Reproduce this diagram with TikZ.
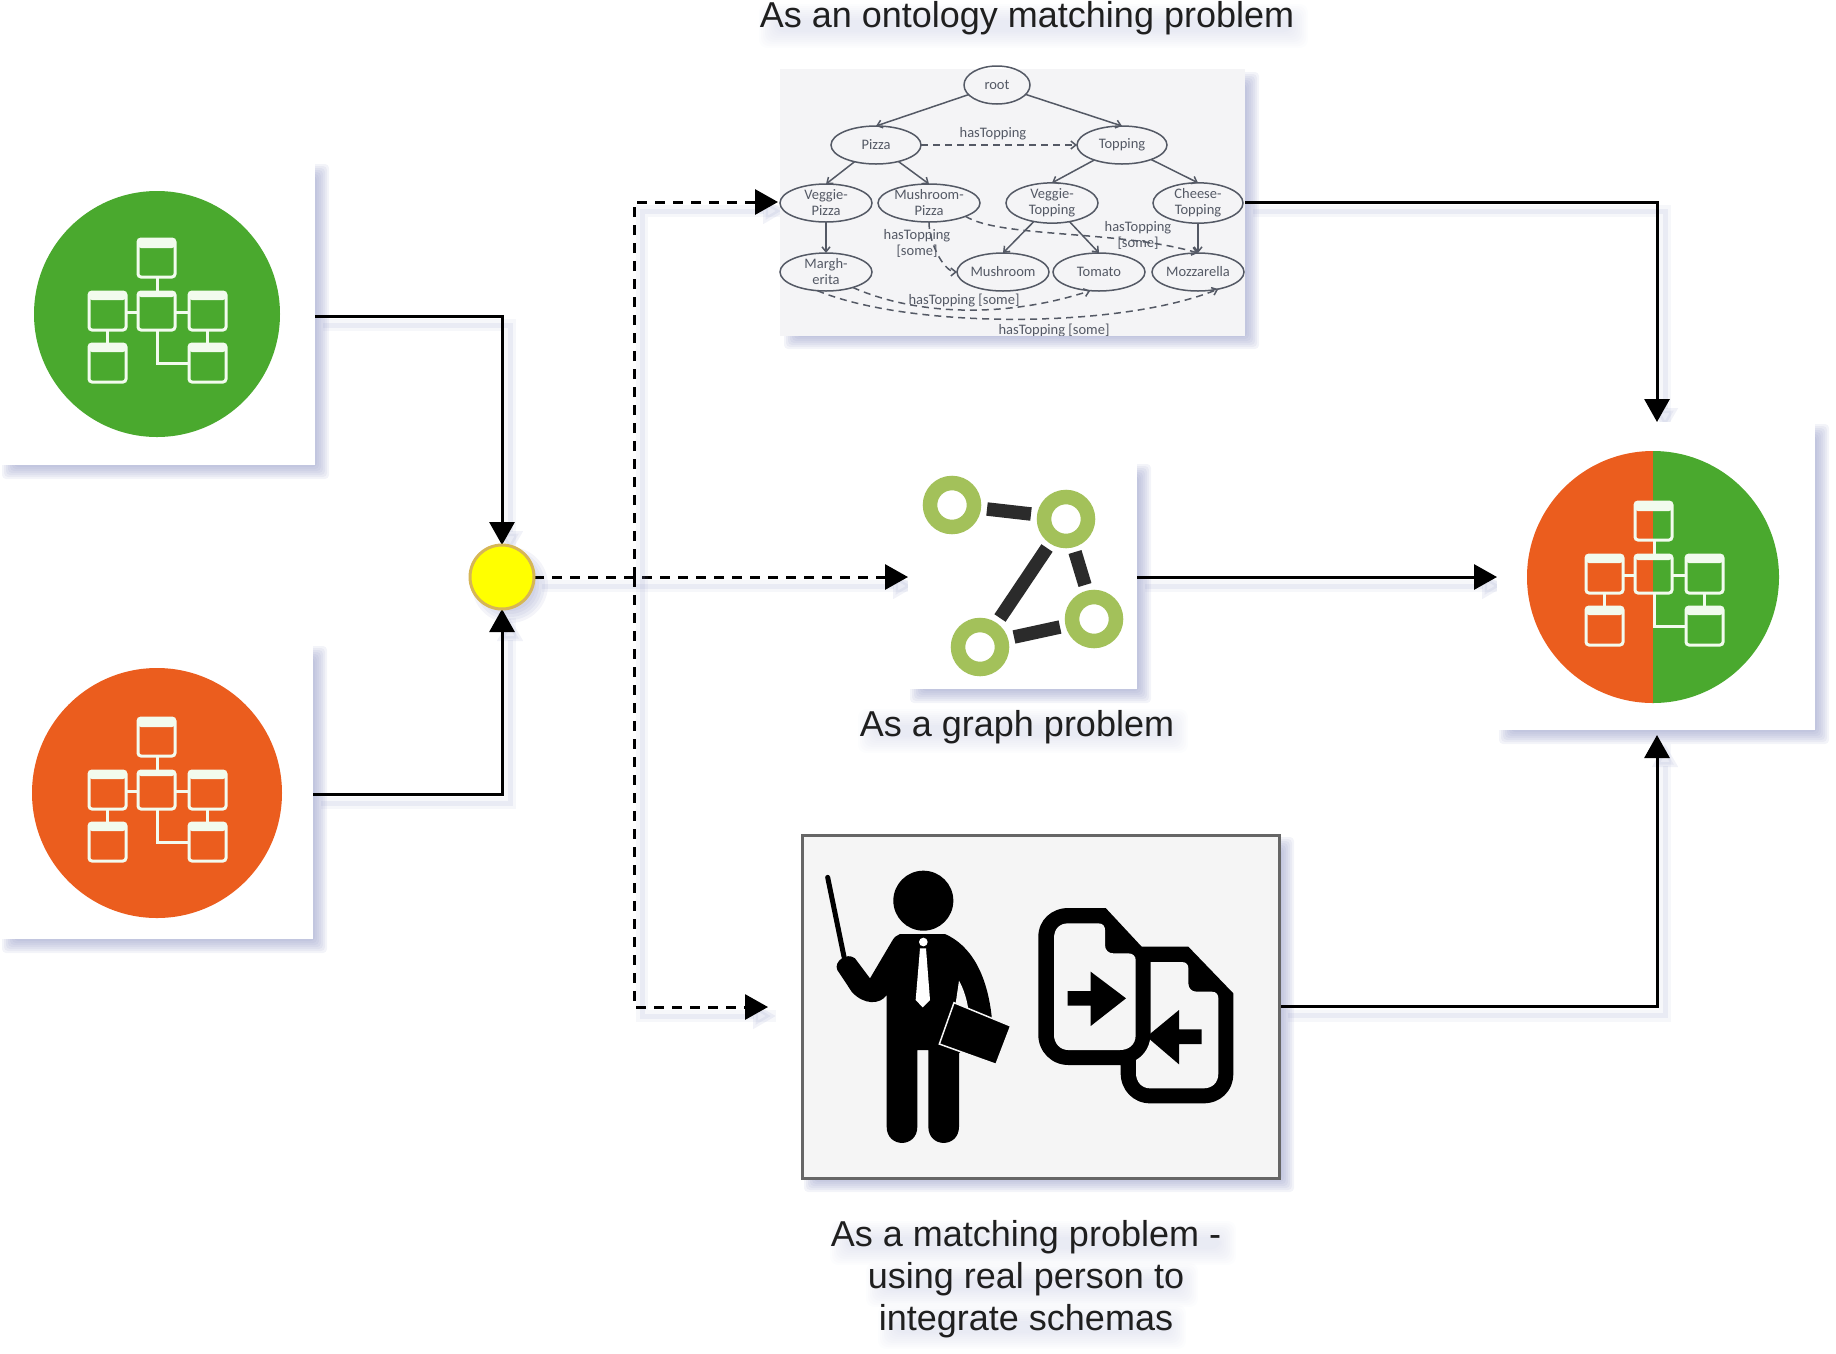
\documentclass[tikz,border=0pt]{standalone}
\usepackage{fontspec}
\setmainfont{Liberation Sans}
\newfontfamily\onto{Carlito}
\usetikzlibrary{arrows.meta,shapes.geometric,calc}
\pgfdeclarelayer{bg}
\pgfsetlayers{bg,main}
\definecolor{shcol}{HTML}{8F96C4}
\definecolor{grn}{HTML}{4AA92E}
\definecolor{org}{HTML}{EB5D1E}
\definecolor{ontoc}{HTML}{545965}
\definecolor{ontobg}{HTML}{F4F4F6}
\definecolor{ringc}{HTML}{A3C15A}
\definecolor{barc}{HTML}{2B2B2B}
\definecolor{mergefill}{HTML}{FFFF00}
\definecolor{mergeline}{HTML}{D6B656}
\definecolor{iconc}{HTML}{F2FBEE}
\tikzset{
  imgbox/.style={rectangle,inner sep=0pt,outer sep=0pt,fill=white},
  captext/.style={font=\fontsize{36}{42}\selectfont,text=black!88,align=center,inner sep=0pt},
  arrowline/.style={line width=3pt,black,-{Triangle[length=23pt,width=25pt]},
    preaction={draw=shcol,opacity=.08,line width=12pt,solid,arrows=-,transform canvas={shift={(8pt,-9pt)}}},
    preaction={draw=shcol,opacity=.12,line width=5pt,solid,transform canvas={shift={(8pt,-9pt)}}}},
  dashline/.style={arrowline,dash pattern=on 10pt off 8pt},
  onode/.style={ellipse,draw=ontoc,line width=1.5pt,inner sep=0pt,outer sep=0pt,minimum height=38pt,
     font=\onto\fontsize{14.5}{16}\selectfont,text=ontoc,align=center},
  olabel/.style={font=\onto\fontsize{14.5}{16}\selectfont,text=ontoc,align=center,inner sep=0pt},
  oedge/.style={draw=ontoc,line width=1.5pt,-{Straight Barb[length=5pt,width=8pt]}},
  odash/.style={oedge,dash pattern=on 7pt off 5pt},
  iconline/.style={draw=iconc,line width=3pt,rounded corners=3pt},
  bar/.style={draw=barc,line width=13.5pt},
  ring/.style={circle,draw=ringc,line width=14.5pt,fill=white,minimum size=44pt,inner sep=0pt,outer sep=0pt},
}
\newcommand\softshadow[4]{% x0 y0 x1 y1
  \foreach \k in {-6,-4,...,6}{
    \fill[shcol,opacity=.105,rounded corners=4pt] ({#1+8-\k},{#2+8-\k}) rectangle ({#3+8+\k},{#4+8+\k});
  }}
\newcommand\softband[4]{%
  \foreach \k in {-8,-6,...,8}{
    \fill[shcol,opacity=.025,rounded corners=8pt] ({#1+6-\k},{#2+6-\k}) rectangle ({#3+6+\k},{#4+6+\k});
  }}
\newcommand\ibox[3]{% x y header
  \fill[iconc,rounded corners=3pt] (#1,#2) rectangle ({#1+37},{#2+#3});
  \draw[iconline] (#1,#2) rectangle ({#1+37},{#2+38});
}
\newcommand\schemaicon[2]{%
  \begin{scope}[shift={(#1,#2)}]
    \draw[iconline] (1,-37) -- (1,-23);
    \draw[iconline] (-30,-3) -- (-17,-3);
    \draw[iconline] (20,-3) -- (33,-3);
    \draw[iconline] (-49,16) -- (-49,29);
    \draw[iconline] (51,16) -- (51,29);
    \draw[iconline,rounded corners=0pt] (1,16) -- (1,48) -- (33,48);
    \ibox{-18}{-76}{9}
    \ibox{-18}{-23}{5}
    \ibox{-67}{-23}{8}
    \ibox{33}{-23}{8}
    \ibox{-67}{29}{8}
    \ibox{33}{29}{8}
  \end{scope}}
\begin{document}
\begin{tikzpicture}[x=1pt,y=-1pt]
\useasboundingbox (0,0) rectangle (1836,1353);
% shadows of the pictures
\begin{pgfonlayer}{bg}
\softshadow{0}{162}{315}{465}
\softshadow{0}{644}{313}{939}
\softshadow{782}{70}{1245}{335}
\softshadow{908}{462}{1137}{689}
\softshadow{1497}{422}{1815}{730}
\softshadow{802}{835}{1280}{1178}
\softband{761}{6}{1294}{34}
\softband{860}{711}{1174}{739}
\softband{832}{1223}{1222}{1251}
\softband{868}{1265}{1184}{1293}
\softband{880}{1307}{1172}{1335}
\foreach \k in {26,29,...,40}{\fill[shcol,opacity=.1] (510,585) circle (\k);}
\end{pgfonlayer}
% left boxes
\node[imgbox,minimum width=315pt,minimum height=303pt] (green) at (157.5,313.5) {};
\fill[grn] (157,314) circle (123);
\schemaicon{156}{315}
\node[imgbox,minimum width=313pt,minimum height=295pt] (orange) at (156.5,791.5) {};
\fill[org] (157,793) circle (125);
\schemaicon{156}{794}
% output box
\node[imgbox,minimum width=318pt,minimum height=308pt] (out) at (1656,576) {};
\fill[org] (1653,703) arc[start angle=90,end angle=270,radius=126] -- cycle;
\fill[grn] (1653,703) arc[start angle=90,end angle=-90,radius=126] -- cycle;
\schemaicon{1653}{578}
% merge point
\node[circle,fill=mergefill,draw=mergeline,line width=3pt,minimum size=64pt,inner sep=0pt,outer sep=0pt] (merge) at (502,577) {};
% ontology picture
\node[imgbox,fill=ontobg,minimum width=465pt,minimum height=267pt] (ontology) at (1012.5,202) {};
\node[onode,minimum width=66pt] (root) at (997,85) {root};
\node[onode,minimum width=90pt] (pizza) at (876,145) {Pizza};
\node[onode,minimum width=90pt] (topping) at (1122,145) {Topping};
\node[onode,minimum width=92pt] (vpizza) at (826,203) {Veggie-\\Pizza};
\node[onode,minimum width=102pt] (mpizza) at (929,203) {Mushroom-\\Pizza};
\node[onode,minimum width=92pt] (vtop) at (1052,203) {Veggie-\\Topping};
\node[onode,minimum width=90pt] (ctop) at (1198,203) {Cheese-\\Topping};
\node[onode,minimum width=92pt] (marg) at (826,272) {Margh-\\erita};
\node[onode,minimum width=92pt] (mush) at (1003,272) {Mushroom};
\node[onode,minimum width=92pt] (tom) at (1099,272) {Tomato};
\node[onode,minimum width=92pt] (moz) at (1198,272) {Mozzarella};
\draw[oedge] (root) -- (pizza.north);
\draw[oedge] (root) -- (topping.north);
\draw[oedge] (pizza) -- (vpizza.north);
\draw[oedge] (pizza) -- (mpizza.north);
\draw[oedge] (topping) -- (vtop.north);
\draw[oedge] (topping) -- (ctop.north);
\draw[oedge] (vpizza) -- (marg);
\draw[oedge] (vtop) -- (mush.north);
\draw[oedge] (vtop) -- (tom.north);
\draw[oedge] (ctop) -- (moz);
\draw[odash] (pizza) -- (topping);
\draw[odash] (mpizza.south) .. controls (929,245) and (945,272) .. (mush.west);
\draw[odash] (mpizza.-20) .. controls (1000,238) and (1120,230) .. (moz.north);
\draw[odash] (marg.-30) .. controls (920,317) and (1010,317) .. (tom.-115);
\draw[odash] (marg.-115) .. controls (910,329) and (1120,329) .. (moz.-40);
\node[olabel] (l1) at (993,134) {hasTopping};
\node[olabel] (l2) at (917,243) {hasTopping\\{[some]}};
\node[olabel] (l3) at (1138,235.5) {hasTopping\\{[some]}};
\node[olabel] (l4) at (964,300) {hasTopping [some]};
\begin{scope}
\clip (780,300) rectangle (1245,335);
\node[olabel] (l5) at (1054,330.5) {hasTopping [some]};
\end{scope}
% graph picture
\node[imgbox,minimum width=229pt,minimum height=227pt] (graph) at (1022.5,575.5) {};
\draw[bar] (987,509) -- (1031,514);
\draw[bar] (1047,548) -- (1000,618);
\draw[bar] (1075,552) -- (1085,585);
\draw[bar] (1014,637) -- (1060,627);
\node[ring] (r1) at (952,505) {};
\node[ring] (r2) at (1066,519) {};
\node[ring] (r3) at (1094,619) {};
\node[ring] (r4) at (980,647) {};
% teacher picture
\node[rectangle,draw=black!60,fill=black!4,line width=3pt,inner sep=0pt,outer sep=0pt,minimum width=477pt,minimum height=343pt] (teacher) at (1041,1006.5) {};
\begin{scope}[shift={(780,820)},x=1/3*1pt,y=-1/3*1pt]
  \fill[black] (430,242) circle[radius=90];
  \draw[black,line width=5pt,line cap=round] (143,172) -- (192,410);
  \fill[black] (360,342) -- (495,342) .. controls (570,375) and (625,460) .. (637,610)
    -- (537,700) -- (537,920) .. controls (537,985) and (445,985) .. (445,920)
    -- (445,690) -- (412,690) -- (412,920) .. controls (412,985) and (320,985) .. (320,920)
    -- (320,525) .. controls (300,555) and (250,555) .. (215,515)
    -- (172,450) .. controls (160,425) and (200,395) .. (225,415)
    -- (270,475) -- (335,365) .. controls (342,352) and (350,345) .. (360,342) -- cycle;
  \fill[black!4] (537,482) .. controls (550,505) and (560,535) .. (565,568) -- (527,550) -- cycle;
  \draw[black!4,line width=1.5pt,fill=black,line join=miter] (692,618) -- (522,548) -- (478,672) -- (648,733) -- cycle;
  \fill[white] (430,366) circle[radius=13];
  \fill[white] (420,385) -- (438,385) -- (450,540) -- (428,562) -- (407,540) -- cycle;
  % documents
  \fill[black] (775,350) .. controls (775,300) and (815,264) .. (865,264) -- (977,264) -- (1085,380)
    -- (1225,380) -- (1360,520) -- (1360,760) .. controls (1360,815) and (1320,850) .. (1270,850)
    -- (1110,850) .. controls (1060,850) and (1022,810) .. (1022,760) -- (1022,735)
    -- (865,735) .. controls (815,735) and (775,695) .. (775,645) -- cycle;
  \fill[black!4] (865,310) -- (955,310) .. controls (970,310) and (975,320) .. (975,330)
    -- (975,375) .. controls (975,390) and (985,400) .. (1000,400)
    -- (1045,400) .. controls (1060,400) and (1067,410) .. (1067,420)
    -- (1067,645) .. controls (1067,675) and (1045,690) .. (1020,690)
    -- (865,690) .. controls (840,690) and (822,670) .. (822,645)
    -- (822,355) .. controls (822,325) and (840,310) .. (865,310) -- cycle;
  \fill[black!4] (1112,426) -- (1205,426) .. controls (1220,426) and (1225,435) .. (1225,445)
    -- (1225,490) .. controls (1225,505) and (1235,515) .. (1250,515)
    -- (1295,515) .. controls (1310,515) and (1315,525) .. (1315,535)
    -- (1315,760) .. controls (1315,790) and (1295,805) .. (1270,805)
    -- (1110,805) .. controls (1085,805) and (1068,785) .. (1068,760)
    -- (1068,720) .. controls (1095,705) and (1112,675) .. (1112,640) -- cycle;
  \fill[black] (863,513) -- (932,513) -- (932,455) -- (1038,535) -- (932,618) -- (932,557) -- (863,557) -- cycle;
  \fill[black] (1265,628) -- (1197,628) -- (1197,570) -- (1100,650) -- (1197,733) -- (1197,672) -- (1265,672) -- cycle;
\end{scope}
% captions
\node[captext] (t1) at (1027,18) {As an ontology matching problem};
\node[captext] (t2) at (1017,727) {As a graph problem};
\node[captext] (t3) at (1026,1279) {As a matching problem -\\using real person to\\integrate schemas};
% connectors
\coordinate (tipT) at (768,1007);
\coordinate (outTop) at (1657,422);
\coordinate (outBot) at (1657,735);
\coordinate (branch) at (634,577);
\begin{pgfonlayer}{bg}
\draw[arrowline] ([yshift=-2.5pt]green.east) -| (merge.north);
\draw[arrowline] ([yshift=-2.5pt]orange.east) -| (merge.south);
\draw[dashline] (merge.east) -- (graph.west |- merge.east);
\draw[dashline] (branch) |- ([xshift=-2pt]ontology.west);
\draw[dashline] (branch) |- (tipT);
\draw[arrowline] (ontology.east) -| (outTop);
\draw[arrowline] (graph.east |- merge.east) -- (out.west |- merge.east);
\draw[arrowline] (teacher.east) -| (outBot);
\end{pgfonlayer}
\end{tikzpicture}
\end{document}
